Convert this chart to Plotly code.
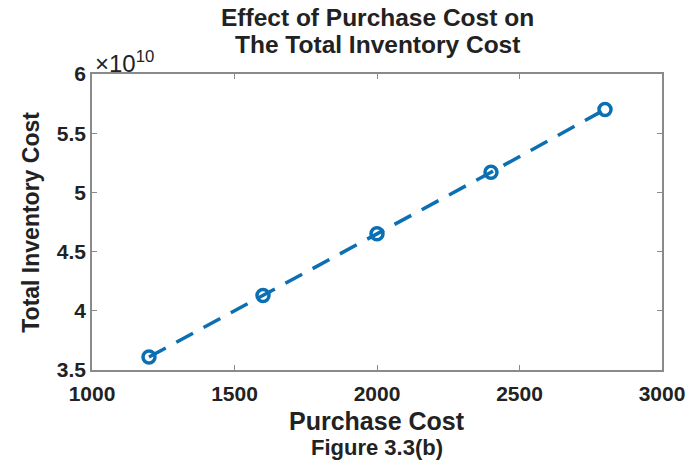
import plotly.graph_objects as go

# Purchase cost vs. total inventory cost
purchase_cost = [1200, 1600, 2000, 2400, 2800]
total_cost = [3.61e10, 4.13e10, 4.65e10, 5.17e10, 5.70e10]

x_ticks = [1000, 1500, 2000, 2500, 3000]
y_ticks = [3.5e10, 4.0e10, 4.5e10, 5.0e10, 5.5e10, 6.0e10]
y_tick_text = ["3.5", "4", "4.5", "5", "5.5", "6"]

blue = "#0b6fb3"
axis_gray = "#8a8a8a"
text_color = "#222222"
font_family = "Liberation Sans, Arial, sans-serif"

fig = go.Figure()
fig.add_trace(go.Scatter(
    x=purchase_cost,
    y=total_cost,
    mode="lines+markers",
    line=dict(color=blue, width=3.5, dash="19px,12px"),
    marker=dict(symbol="circle-open", size=12, color=blue,
                line=dict(width=3.5, color=blue)),
    showlegend=False,
))

axis_common = dict(
    showline=True, linecolor=axis_gray, linewidth=1.5, mirror="allticks",
    ticks="inside", ticklen=5, tickwidth=1, tickcolor=axis_gray,
    showgrid=False, zeroline=False,
    tickfont=dict(family=font_family, size=21, color=text_color, weight="bold"),
)

fig.update_xaxes(range=[1000, 3000], tickvals=x_ticks,
                 ticklabelstandoff=4, **axis_common)
fig.update_yaxes(range=[3.5e10, 6.0e10], tickvals=y_ticks,
                 ticktext=y_tick_text, **axis_common)

bold = dict(family=font_family, color=text_color, weight="bold")
annotations = [
    dict(text="Effect of Purchase Cost on", x=0.5, y=18, size=24.5),
    dict(text="The Total Inventory Cost", x=0.5, y=45, size=24.5),
    dict(text="Purchase Cost", x=0.5, y=421, size=25),
    dict(text="Figure 3.3(b)", x=0.5, y=447, size=22),
]
H = 465
ann = []
for a in annotations:
    ann.append(dict(
        text=a["text"], xref="paper", x=a["x"], xanchor="center",
        yref="paper", y=(H - 95 - a["y"]) / (H - 74 - 95), yanchor="middle",
        showarrow=False, font=dict(size=a["size"], **bold),
    ))
# Y-axis title
ann.append(dict(
    text="Total Inventory Cost", xref="paper", x=(30 - 92) / 577, xanchor="center",
    yref="paper", y=0.5, yanchor="middle", textangle=-90, showarrow=False,
    font=dict(size=23, **bold),
))
# Exponent multiplier
ann.append(dict(
    text="×10<sup>10</sup>", xref="paper", x=(93 - 92) / 577, xanchor="left",
    yref="paper", y=(H - 95 - 62) / (H - 74 - 95), yanchor="middle",
    showarrow=False, font=dict(size=24, family=font_family, color=text_color),
))

fig.update_layout(
    width=697, height=465,
    margin=dict(l=92, r=28, t=74, b=95),
    paper_bgcolor="white", plot_bgcolor="white",
    annotations=ann,
)

fig.write_html("out.html")
